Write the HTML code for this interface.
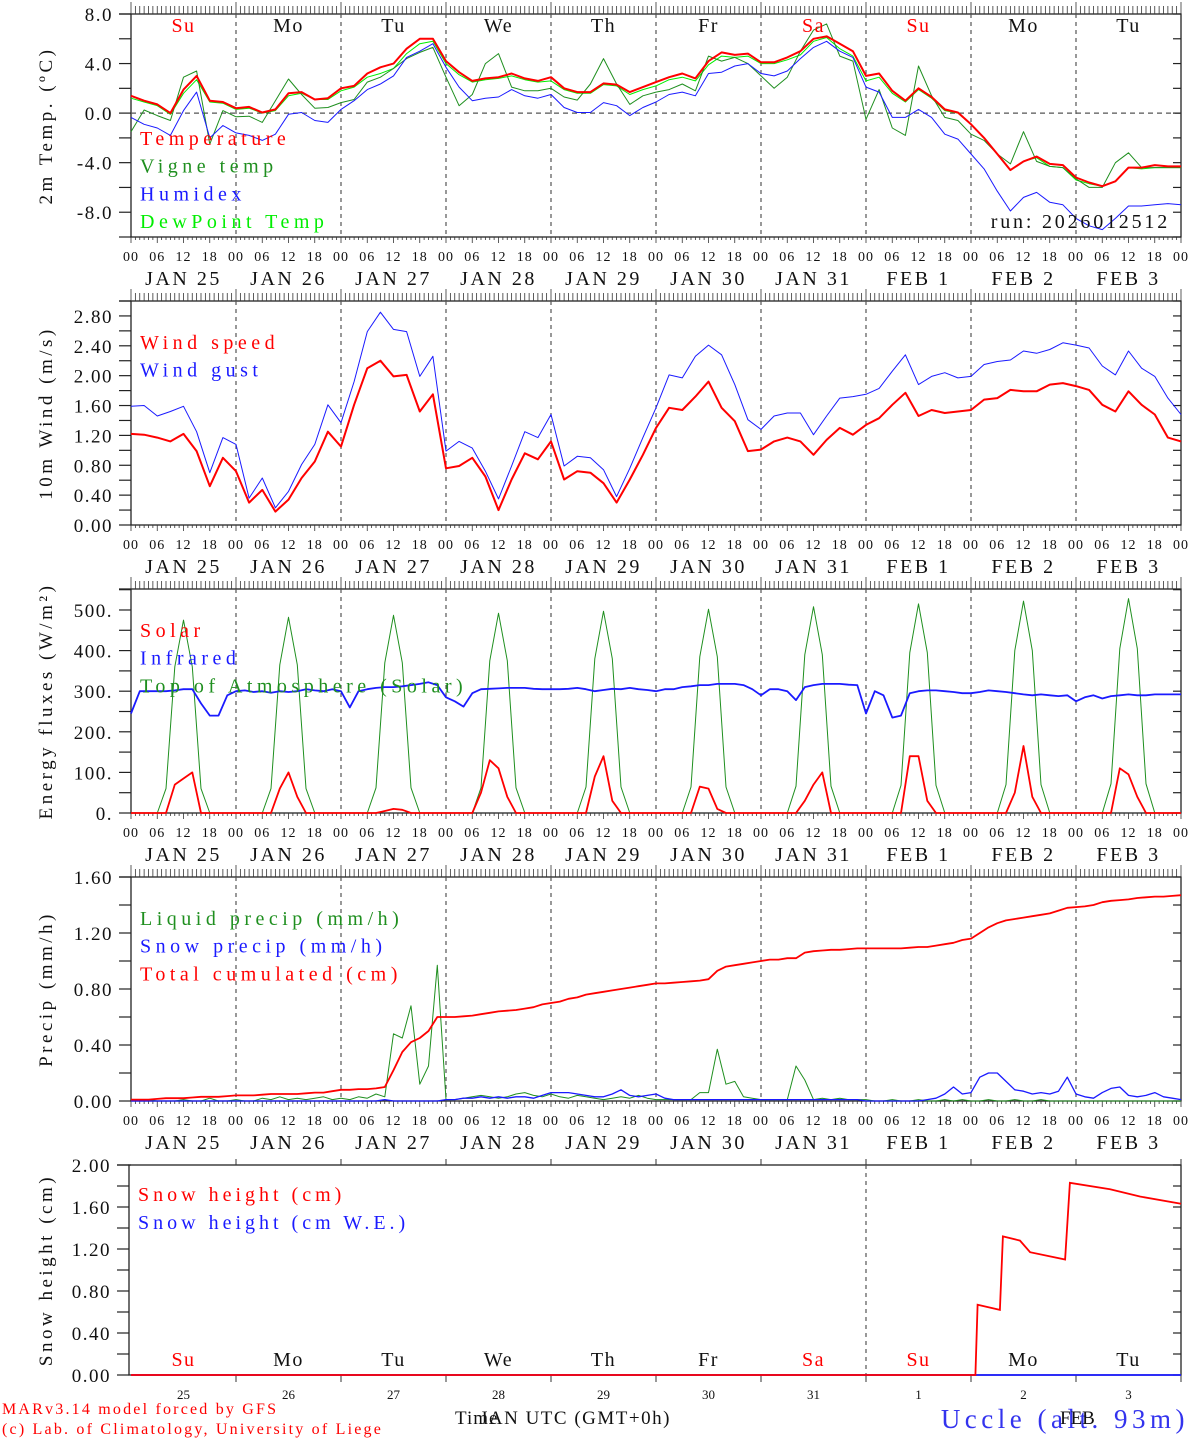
<!DOCTYPE html>
<html><head><meta charset="utf-8"><style>
html,body{margin:0;padding:0;background:#fff;}
svg{display:block;}
text{font-family:"Liberation Serif",serif;}
</style></head><body>
<svg id="chart" width="1194" height="1440" viewBox="0 0 1194 1440" xmlns="http://www.w3.org/2000/svg"></svg>
<script>
// ---------- DATA ----------
const dayNames = ["Su","Mo","Tu","We","Th","Fr","Sa","Su","Mo","Tu"];
const dayNameColors = ["red","k","k","k","k","k","red","red","k","k"];
const dateLabels = ["JAN 25","JAN 26","JAN 27","JAN 28","JAN 29","JAN 30","JAN 31","FEB  1","FEB  2","FEB  3"];
const dayNums = ["25","26","27","28","29","30","31","1","2","3"];
const hourLabels = ["00","06","12","18"];
// 3-hourly temperature series (h0..h240)
const tempT = [1.4,1.0,0.7,0.0,1.9,3.0,1.0,0.9, 0.4,0.5,0.05,0.3,1.6,1.7,1.1,1.2, 2.0,2.2,3.2,3.7,4.0,5.2,6.0,6.0, 4.2,3.3,2.6,2.8,2.9,3.2,2.8,2.6, 2.9,2.0,1.7,1.7,2.4,2.3,1.7,2.1, 2.5,2.9,3.2,2.8,4.2,4.9,4.7,4.8, 4.1,4.1,4.5,5.0,6.0,6.2,5.6,5.0, 3.0,3.2,1.8,1.0,2.0,1.3,0.3,0.05, -0.9,-2.0,-3.3,-4.6,-3.9,-3.5,-4.1,-4.2, -5.2,-5.6,-5.9,-5.5,-4.4,-4.4,-4.2,-4.3, -4.3];
const tempVigne = [-1.5,0.25,-0.2,-0.6,2.9,3.4,-2.5,0.2, -0.3,-0.25,-0.75,1.0,2.75,1.5,0.4,0.45, 0.85,1.1,2.5,2.9,3.6,4.4,4.9,5.3, 2.9,0.6,1.5,4.0,4.8,2.1,1.8,1.8, 2.0,1.3,1.05,2.35,4.4,2.35,0.7,1.4, 1.7,1.9,2.35,1.8,4.6,4.2,4.5,4.0, 3.0,2.0,2.9,5.0,6.7,7.2,4.6,4.2, -0.5,1.9,-1.2,-1.8,3.8,1.4,-0.35,-0.6, -1.7,-2.2,-3.3,-4.1,-1.5,-3.9,-4.3,-4.4, -5.3,-6.0,-6.0,-4.0,-3.2,-4.4,-4.4,-4.4, -4.4];
const tempHumidex = [-0.35,-0.9,-1.2,-1.8,0.2,1.7,-2.0,-1.0, -1.6,-1.8,-2.2,-1.7,-0.1,0.05,-0.6,-0.75, 0.3,1.0,1.9,2.35,3.0,4.5,5.0,5.6, 3.7,2.1,1.0,1.2,1.3,1.9,1.4,1.2, 1.5,0.45,0.05,0.05,0.85,0.6,-0.2,0.45, 0.9,1.5,1.7,1.4,3.2,3.3,3.8,4.0, 3.2,3.0,3.4,4.4,5.3,5.8,5.0,4.5, 2.1,1.7,-0.35,-0.35,0.3,-0.35,-1.7,-2.1, -3.3,-4.5,-6.3,-7.9,-6.8,-6.4,-7.2,-7.4, -8.5,-9.1,-9.4,-8.5,-7.5,-7.5,-7.4,-7.3, -7.4];
const tempDew = [1.2,0.9,0.6,-0.1,1.6,2.7,0.9,0.8, 0.3,0.4,0.0,0.2,1.4,1.6,1.1,1.1, 1.8,2.1,2.9,3.2,3.6,4.8,5.6,5.8, 4.0,3.1,2.5,2.7,2.8,3.0,2.7,2.5, 2.6,1.9,1.6,1.6,2.3,2.2,1.5,1.9, 2.2,2.7,2.9,2.6,3.9,4.6,4.5,4.6, 4.0,4.0,4.3,4.7,5.8,6.1,5.2,4.6, 2.6,2.9,1.6,0.9,1.9,1.2,0.2,0.0, -0.9,-2.0,-3.3,-4.6,-3.9,-3.6,-4.3,-4.4, -5.4,-5.7,-5.9,-5.5,-4.4,-4.5,-4.4,-4.4, -4.4];
// 3-hourly wind
const windSpeed = [1.22,1.21,1.17,1.12,1.22,0.99,0.52,0.90, 0.72,0.30,0.47,0.18,0.34,0.63,0.85,1.25, 1.05,1.61,2.10,2.20,1.99,2.01,1.52,1.75, 0.76,0.79,0.90,0.65,0.20,0.61,0.96,0.88, 1.12,0.61,0.72,0.70,0.56,0.30,0.61,0.94, 1.30,1.57,1.54,1.72,1.92,1.57,1.39,0.99, 1.01,1.12,1.17,1.12,0.94,1.14,1.30,1.21, 1.34,1.43,1.61,1.77,1.46,1.54,1.50,1.52, 1.54,1.68,1.70,1.81,1.79,1.79,1.88,1.90, 1.86,1.81,1.61,1.52,1.79,1.61,1.48,1.17, 1.12];
const windGust = [1.59,1.60,1.46,1.52,1.59,1.25,0.70,1.17, 1.08,0.36,0.63,0.23,0.45,0.81,1.08,1.61, 1.37,1.92,2.59,2.85,2.62,2.59,1.99,2.26, 0.99,1.12,1.03,0.72,0.35,0.79,1.25,1.17, 1.48,0.79,0.92,0.90,0.74,0.38,0.76,1.17, 1.57,2.01,1.97,2.26,2.41,2.28,1.88,1.41, 1.28,1.46,1.50,1.50,1.21,1.46,1.70,1.72, 1.75,1.83,2.06,2.28,1.88,1.99,2.04,1.97, 1.99,2.15,2.19,2.21,2.33,2.30,2.35,2.44, 2.41,2.37,2.13,2.01,2.33,2.10,1.99,1.70, 1.48];
// 2-hourly energy fluxes
const fluxSolar = [0,0,0,0,0,70,85,100,0,0,0,0, 0,0,0,0,0,60,100,40,0,0,0,0, 0,0,0,0,0,5,10,8,0,0,0,0, 0,0,0,0,50,130,110,40,0,0,0,0, 0,0,0,0,0,90,140,30,0,0,0,0, 0,0,0,0,0,65,60,10,0,0,0,0, 0,0,0,0,0,30,70,100,0,0,0,0, 0,0,0,0,0,140,140,30,0,0,0,0, 0,0,0,0,0,50,165,40,0,0,0,0, 0,0,0,0,0,110,95,40,0,0,0,0, 0];
const fluxInfrared = [245,300,300,300,300,302,305,305,270,240,240,290, 300,302,298,300,296,300,298,300,305,302,300,305, 300,260,300,305,308,310,310,312,315,318,322,315, 285,275,262,295,305,306,307,308,308,308,306,305, 305,305,306,308,305,300,303,306,305,308,305,303, 300,305,305,310,312,315,315,318,318,318,315,305, 290,305,305,300,278,310,315,318,318,318,316,315, 245,300,290,235,240,295,300,302,302,300,298,295, 295,298,302,300,298,295,292,290,292,290,288,290, 275,285,290,282,288,290,292,290,290,292,292,292, 292];
const fluxTOA = [0,0,0,0,60,360,475,360,60,0,0,0, 0,0,0,0,60,365,482,365,60,0,0,0, 0,0,0,0,62,370,487,370,62,0,0,0, 0,0,0,0,62,375,492,375,62,0,0,0, 0,0,0,0,64,380,497,380,64,0,0,0, 0,0,0,0,64,385,502,385,64,0,0,0, 0,0,0,0,66,390,508,390,66,0,0,0, 0,0,0,0,68,395,515,395,68,0,0,0, 0,0,0,0,70,400,522,400,70,0,0,0, 0,0,0,0,72,405,528,405,72,0,0,0, 0];
// 2-hourly precipitation
const precipLiquid = [0,0,0.01,0,0,0,0.01,0,0,0.02,0,0, 0.01,0,0,0.02,0.01,0.03,0.01,0.02,0.01,0.02,0.03,0.01, 0.02,0.01,0.03,0.02,0.05,0.03,0.48,0.45,0.68,0.12,0.25,0.97, 0.01,0.01,0.02,0.03,0.04,0.03,0.02,0.03,0.05,0.06,0.04,0.03, 0.05,0.03,0.02,0.04,0.03,0.02,0.01,0.02,0.03,0.02,0.04,0.02, 0.01,0.01,0.01,0.01,0.01,0.06,0.06,0.37,0.12,0.14,0.03,0.02, 0.01,0.01,0.01,0.01,0.25,0.15,0.01,0.02,0.01,0.02,0.01,0.01, 0.01,0,0,0.01,0,0,0.01,0,0,0.01,0,0.01, 0,0,0.01,0,0,0.01,0,0,0.01,0,0,0, 0,0,0,0,0,0,0,0,0,0,0,0, 0];
const precipSnow = [0,0,0,0,0,0,0,0,0,0,0,0, 0,0,0,0,0,0,0,0,0,0,0,0, 0,0,0,0,0,0.01,0,0,0,0,0,0, 0.01,0.01,0.02,0.02,0.03,0.02,0.03,0.02,0.03,0.03,0.02,0.04, 0.06,0.06,0.06,0.05,0.04,0.03,0.03,0.05,0.08,0.04,0.03,0.04, 0.05,0.02,0.01,0.01,0.01,0.01,0.01,0.01,0.01,0.01,0.01,0.01, 0.01,0.01,0.01,0.01,0.01,0.01,0.01,0.01,0.01,0.01,0.01,0.01, 0,0,0,0,0,0,0,0.01,0.02,0.05,0.1,0.05, 0.06,0.17,0.2,0.2,0.14,0.08,0.07,0.05,0.06,0.05,0.07,0.17, 0.05,0.03,0.02,0.06,0.09,0.1,0.04,0.03,0.04,0.06,0.03,0.02, 0.01];
const precipCum = [0.01,0.01,0.01,0.015,0.02,0.02,0.02,0.025,0.03,0.03,0.03,0.035, 0.04,0.04,0.04,0.045,0.05,0.05,0.05,0.05,0.055,0.06,0.06,0.07, 0.08,0.08,0.085,0.085,0.09,0.10,0.22,0.35,0.42,0.45,0.50,0.60, 0.60,0.60,0.605,0.61,0.62,0.63,0.64,0.645,0.65,0.66,0.67,0.69, 0.70,0.71,0.73,0.74,0.76,0.77,0.78,0.79,0.80,0.81,0.82,0.83, 0.84,0.84,0.845,0.85,0.855,0.86,0.87,0.93,0.96,0.97,0.98,0.99, 1.0,1.01,1.01,1.02,1.02,1.06,1.07,1.075,1.08,1.08,1.085,1.09, 1.09,1.09,1.09,1.09,1.09,1.095,1.10,1.10,1.11,1.12,1.13,1.15, 1.16,1.20,1.24,1.27,1.29,1.30,1.31,1.32,1.33,1.34,1.36,1.38, 1.385,1.39,1.40,1.42,1.43,1.435,1.44,1.45,1.455,1.46,1.46,1.465, 1.47];
// snow height (event times in hours)
const snowHours = [0,193,193.5,198.6,199.3,203.2,205.5,213.5,214.6,223.8,230.6,240];
const snowHeight = [0,0,0.67,0.62,1.32,1.28,1.17,1.1,1.83,1.77,1.7,1.63];
const snowWE = [0,0,0,0,0,0,0,0,0,0,0,0];
const tempTicks = ["8.0","4.0","0.0","-4.0","-8.0"];
const windTicks = ["2.80","2.40","2.00","1.60","1.20","0.80","0.40","0.00"];
const fluxTicks = ["500.","400.","300.","200.","100.","0."];
const precipTicks = ["1.60","1.20","0.80","0.40","0.00"];
const snowTicks = ["2.00","1.60","1.20","0.80","0.40","0.00"];

// ---------- DRAW ----------
const NS="http://www.w3.org/2000/svg";
const svg=document.getElementById('chart');
const X0=131,X1=1181,HOURS=240;
const xs=h=>X0+(X1-X0)*h/HOURS;
const COL={red:"#ff0000",k:"#111",green:"#1f8f1f",blue:"#1a1aff",lime:"#00ee00",grid:"#555"};
function el(tag,attrs,parent){const e=document.createElementNS(NS,tag);for(const k in attrs)e.setAttribute(k,attrs[k]);(parent||svg).appendChild(e);return e;}
function txt(s,x,y,size,fill,anchor,parent,extra){const t=el('text',Object.assign({x:x,y:y,'font-size':size,fill:fill,'text-anchor':anchor||'start'},extra||{}),parent);t.textContent=s;return t;}

const panels=[
 {name:'temperature',top:14,bot:237,min:-10,max:8,ticks:tempTicks,minor:2,ylabel:'2m Temp. (ºC)',zero:true,
  series:[[tempDew,COL.lime,1,3],[tempVigne,COL.green,1,3],[tempHumidex,COL.blue,1,3],[tempT,COL.red,2,3]],
  legend:[['Temperature',COL.red],['Vigne temp',COL.green],['Humidex',COL.blue],['DewPoint Temp',COL.lime]],ly:145,days:true},
 {name:'wind',top:301,bot:525,min:0,max:3.0,ticks:windTicks,minor:0.2,ylabel:'10m Wind (m/s)',
  series:[[windGust,COL.blue,1,3],[windSpeed,COL.red,2,3]],legend:[['Wind speed',COL.red],['Wind gust',COL.blue]],ly:349},
 {name:'energy',top:589,bot:813,min:0,max:551.7,ticks:fluxTicks,minor:50,ylabel:'Energy fluxes (W/m²)',
  series:[[fluxTOA,COL.green,1,2],[fluxInfrared,COL.blue,1.8,2],[fluxSolar,COL.red,1.8,2]],legend:[['Solar',COL.red],['Infrared',COL.blue],['Top of Atmosphere (Solar)',COL.green]],ly:637},
 {name:'precip',top:877,bot:1101,min:0,max:1.6,ticks:precipTicks,minor:0.2,ylabel:'Precip (mm/h)',
  series:[[precipLiquid,COL.green,1,2],[precipSnow,COL.blue,1.3,2],[precipCum,COL.red,1.8,2]],legend:[['Liquid precip (mm/h)',COL.green],['Snow precip (mm/h)',COL.blue],['Total cumulated (cm)',COL.red]],ly:925}
];

panels.forEach((p,pi)=>{
  const g=el('g',{});
  
  
  const ys=v=>p.bot-(p.bot-p.top)*(v-p.min)/(p.max-p.min);
  el('rect',{x:X0,y:p.top,width:X1-X0,height:p.bot-p.top,fill:'none',stroke:'#222','stroke-width':1.3},g);
  el('line',{x1:119,y1:p.top,x2:X0,y2:p.top,stroke:'#222','stroke-width':1.3},g);
  for(let h=0;h<=HOURS;h++){
    const x=xs(h);
    el('line',{x1:x,y1:p.top-(h%24==0?12:8),x2:x,y2:p.top,stroke:'#333','stroke-width':0.8},g);
    el('line',{x1:x,y1:p.bot,x2:x,y2:p.bot+(h%6==0?6:3),stroke:'#333','stroke-width':0.8},g);
  }
  for(let d=1;d<10;d++){const x=xs(d*24);const l=el('line',{x1:x,y1:p.top,x2:x,y2:p.bot,stroke:COL.grid,'stroke-width':1.2,'stroke-dasharray':'4,4'},g);}
  if(p.zero){el('line',{x1:X0,y1:ys(0),x2:X1,y2:ys(0),stroke:COL.grid,'stroke-width':1.2,'stroke-dasharray':'5,4'},g);}
  for(let v=p.min;v<=p.max+1e-6;v+=p.minor){
    const y=ys(v);
    el('line',{x1:119,y1:y,x2:X0,y2:y,stroke:'#222','stroke-width':1.2},g);
    el('line',{x1:X1-8,y1:y,x2:X1,y2:y,stroke:'#222','stroke-width':1.2},g);
  }
  p.ticks.forEach(s=>{
    const v=parseFloat(s);const t=txt(s,113,ys(v)+7,19,'#111','end',g,{'letter-spacing':'1.5'});
    
  });
  const cy=(p.top+p.bot)/2;
  const yl=txt(p.ylabel,52,cy,19,'#111','middle',g,{transform:`rotate(-90 52 ${cy})`,'letter-spacing':'3.5'});
  
  for(let d=0;d<10;d++){
    for(let k=0;k<4;k++){const t=txt(hourLabels[k],xs(d*24+k*6),p.bot+24,14,'#111','middle',g,{'letter-spacing':'1'});}
    const t=txt(dateLabels[d],xs(d*24+12),p.bot+48,20,'#111','middle',g,{'letter-spacing':'2.5','xml:space':'preserve'});
    
  }
  const t0=txt("00",xs(240),p.bot+24,14,'#111','middle',g,{'letter-spacing':'1'});
  
  p.series.forEach(([arr,color,w,step])=>{
    const pts=arr.map((v,i)=>xs(i*step).toFixed(1)+','+ys(v).toFixed(1)).join(' ');
    const pl=el('polyline',{points:pts,fill:'none',stroke:color,'stroke-width':w,'stroke-linejoin':'round'},g);
    
  });
  p.legend.forEach(([s,c],i)=>{const t=txt(s,140,p.ly+i*27.7,20,c,'start',g,{'letter-spacing':'4.5'});});
  if(p.days){
    for(let d=0;d<10;d++){const t=txt(dayNames[d],xs(d*24+12),32,20,dayNameColors[d]=='red'?COL.red:'#111','middle',g,{'letter-spacing':'1.5'});}
    const r=txt('run: 2026012512',1170,228,20,'#111','end',g,{'letter-spacing':'2.8'});
    
  }
});

(function(){
  const top=1165,bot=1375,min=0,max=2.0;
  const g=el('g',{});
  
  
  const ys=v=>bot-(bot-top)*(v-min)/(max-min);
  el('rect',{x:X0-2,y:top,width:X1-X0+2,height:bot-top,fill:'none',stroke:'#222','stroke-width':1.3},g);
  el('line',{x1:117,y1:top,x2:X0,y2:top,stroke:'#222','stroke-width':1.3},g);
  for(let v=0;v<=max+1e-6;v+=0.2){const y=ys(v);el('line',{x1:117,y1:y,x2:X0-2,y2:y,stroke:'#222','stroke-width':1.2},g);el('line',{x1:X1-8,y1:y,x2:X1,y2:y,stroke:'#222','stroke-width':1.2},g);}
  snowTicks.forEach(s=>{const t=txt(s,111,ys(parseFloat(s))+7,19,'#111','end',g,{'letter-spacing':'1.5'});});
  const cy=(top+bot)/2;
  const yl=txt('Snow height (cm)',52,cy,19,'#111','middle',g,{transform:`rotate(-90 52 ${cy})`,'letter-spacing':'3.5'});
  
  for(let d=1;d<=10;d++){const x=xs(d*24);el('line',{x1:x,y1:top-6,x2:x,y2:top,stroke:'#333','stroke-width':1},g);el('line',{x1:x,y1:bot,x2:x,y2:bot+7,stroke:'#333','stroke-width':1},g);}
  const dl=el('line',{x1:xs(168),y1:top,x2:xs(168),y2:bot,stroke:COL.grid,'stroke-width':1.2,'stroke-dasharray':'4,4'},g);
  
  for(let d=0;d<10;d++){
    const t=txt(dayNames[d],xs(d*24+12),1366,20,dayNameColors[d]=='red'?COL.red:'#111','middle',g,{'letter-spacing':'1.5'});
    const n=txt(dayNums[d],xs(d*24+12),1399,13,'#111','middle',g);
  }
  [[snowWE,COL.blue],[snowHeight,COL.red]].forEach(([arr,c])=>{
    const pts=arr.map((v,i)=>xs(snowHours[i]).toFixed(1)+','+ys(v).toFixed(1)).join(' ');
    const pl=el('polyline',{points:pts,fill:'none',stroke:c,'stroke-width':1.8},g);
    
  });
  [['Snow height (cm)',COL.red],['Snow height (cm W.E.)',COL.blue]].forEach(([s,c],i)=>{const t=txt(s,138,1201+i*28,20,c,'start',g,{'letter-spacing':'4'});});
})();

const f1=txt('MARv3.14 model forced by GFS',2,1414,16,COL.red,'start',null,{'letter-spacing':'2.2'});

const f2=txt('(c) Lab. of Climatology, University of Liege',2,1434,16,COL.red,'start',null,{'letter-spacing':'2.2'});

const xt=txt('Time',455,1424,19,'#111','start',null,{'letter-spacing':'1'});

const xt2=txt('JAN UTC (GMT+0h)',480,1424,19,'#111','start',null,{'letter-spacing':'1.5'});

const st=txt('Uccle (alt. 93m)',1189,1428,27,'#3333ee','end',null,{'letter-spacing':'4.5'});

const fb=txt('FEB',1060,1424,19,'#111','start',null);

</script>
</body></html>
